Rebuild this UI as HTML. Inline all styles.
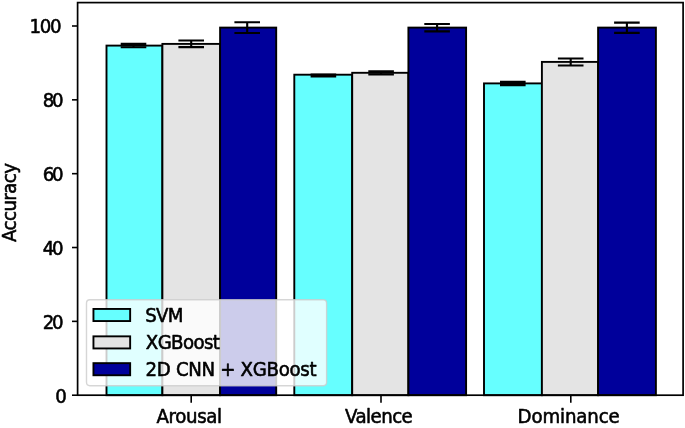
<!DOCTYPE html>
<html lang="en">
<head>
<meta charset="utf-8">
<title>Accuracy chart</title>
<style>
html,body{margin:0;padding:0;background:#fff;}
body{width:685px;height:428px;overflow:hidden;}
svg{display:block;}
</style>
</head>
<body>
<svg width="685" height="428" viewBox="0 0 685 428" font-family="DejaVu Sans, Liberation Sans, sans-serif" font-size="18.2" fill="#000">
<rect x="0" y="0" width="685" height="428" fill="#fff"/>
<g stroke="#000" stroke-width="1.9" stroke-linejoin="miter">
<rect x="106.50" y="45.60" width="55.90" height="349.60" fill="#66ffff"/>
<rect x="162.40" y="43.90" width="57.70" height="351.30" fill="#e4e4e4"/>
<rect x="220.10" y="27.60" width="56.10" height="367.60" fill="#00009b"/>
<rect x="294.30" y="74.70" width="57.90" height="320.50" fill="#66ffff"/>
<rect x="352.20" y="72.80" width="56.20" height="322.40" fill="#e4e4e4"/>
<rect x="408.40" y="27.60" width="57.70" height="367.60" fill="#00009b"/>
<rect x="484.00" y="83.40" width="57.90" height="311.80" fill="#66ffff"/>
<rect x="541.90" y="61.90" width="56.20" height="333.30" fill="#e4e4e4"/>
<rect x="598.10" y="27.60" width="57.80" height="367.60" fill="#00009b"/>
</g>
<g stroke="#000" stroke-width="2.1" fill="none">
<path d="M133.50 43.90V47.30M120.70 43.90H146.30M120.70 47.30H146.30"/>
<path d="M191.20 40.50V47.10M178.40 40.50H204.00M178.40 47.10H204.00"/>
<path d="M247.20 22.25V32.95M234.40 22.25H260.00M234.40 32.95H260.00"/>
<path d="M323.40 74.60V76.40M310.60 74.60H336.20M310.60 76.40H336.20"/>
<path d="M381.10 71.20V74.40M368.30 71.20H393.90M368.30 74.40H393.90"/>
<path d="M437.10 24.00V31.40M424.30 24.00H449.90M424.30 31.40H449.90"/>
<path d="M512.80 81.90V85.10M500.00 81.90H525.60M500.00 85.10H525.60"/>
<path d="M570.70 58.50V65.50M557.90 58.50H583.50M557.90 65.50H583.50"/>
<path d="M626.90 22.65V32.85M614.10 22.65H639.70M614.10 32.85H639.70"/>
</g>
<rect x="77.6" y="2.6" width="605.50" height="392.60" fill="none" stroke="#000" stroke-width="1.7"/>
<g stroke="#000" stroke-width="1.6">
<line x1="72.00" x2="77.6" y1="395.20" y2="395.20"/>
<line x1="72.00" x2="77.6" y1="321.36" y2="321.36"/>
<line x1="72.00" x2="77.6" y1="247.52" y2="247.52"/>
<line x1="72.00" x2="77.6" y1="173.68" y2="173.68"/>
<line x1="72.00" x2="77.6" y1="99.84" y2="99.84"/>
<line x1="72.00" x2="77.6" y1="26.00" y2="26.00"/>
<line x1="191.2" x2="191.2" y1="395.2" y2="402.80"/>
<line x1="381.0" x2="381.0" y1="395.2" y2="402.80"/>
<line x1="570.8" x2="570.8" y1="395.2" y2="402.80"/>
</g>
<g stroke="#000" stroke-width="0.55" stroke-linejoin="round">
<text transform="translate(55.22 402.50) scale(1 1.06)">0</text>
<text transform="translate(42.63 328.66) scale(1 1.06)" textLength="20.99">20</text>
<text transform="translate(42.69 254.82) scale(1 1.06)" textLength="20.94">40</text>
<text transform="translate(42.73 180.98) scale(1 1.06)" textLength="20.90">60</text>
<text transform="translate(42.73 107.14) scale(1 1.06)" textLength="20.90">80</text>
<text transform="translate(29.60 33.30) scale(1 1.06)" textLength="31.96">100</text>
<text transform="translate(156.52 422.6) scale(1 1.06)" textLength="65.63">Arousal</text>
<text transform="translate(345.02 422.6) scale(1 1.06)" textLength="67.80">Valence</text>
<text transform="translate(517.58 422.6) scale(1 1.06)" textLength="102.21">Dominance</text>
<text transform="translate(16.4 242.0) rotate(-90) scale(1 1.06)" x="0.02" y="0" textLength="79.04">Accuracy</text>
</g>
<rect x="86.5" y="299.8" width="240.1" height="85.9" rx="3.4" ry="3.4" fill="#fff" fill-opacity="0.8" stroke="#ccc" stroke-opacity="0.8" stroke-width="1.4"/>
<rect x="93.45" y="308.95" width="36.7" height="12.1" fill="#66ffff" stroke="#000" stroke-width="1.9"/>
<text transform="translate(145.22 322.30) scale(1 1.06)" textLength="38.34" stroke="#000" stroke-width="0.55" stroke-linejoin="round">SVM</text>
<rect x="93.45" y="336.35" width="36.7" height="12.1" fill="#e4e4e4" stroke="#000" stroke-width="1.9"/>
<text transform="translate(145.85 349.00) scale(1 1.06)" textLength="74.06" stroke="#000" stroke-width="0.55" stroke-linejoin="round">XGBoost</text>
<rect x="93.45" y="363.15" width="36.7" height="12.1" fill="#00009b" stroke="#000" stroke-width="1.9"/>
<text transform="translate(145.53 375.80) scale(1 1.06)" textLength="171.03" stroke="#000" stroke-width="0.55" stroke-linejoin="round">2D CNN + XGBoost</text>
</svg>
</body>
</html>
